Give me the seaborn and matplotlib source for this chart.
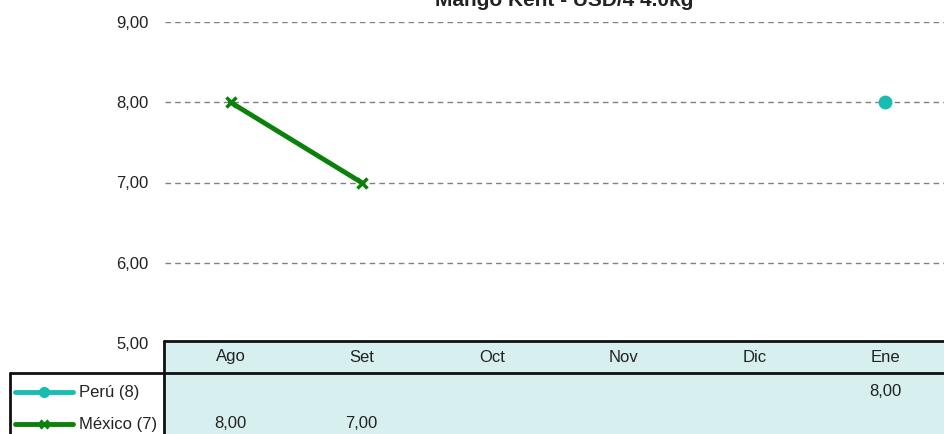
import numpy as np
import pandas as pd
import matplotlib
matplotlib.use("Agg")
import matplotlib.pyplot as plt
import matplotlib.transforms as mtrans
from matplotlib.lines import Line2D
from matplotlib.patches import Rectangle
import seaborn as sns

# data
months = ["Ago", "Set", "Oct", "Nov", "Dic", "Ene"]
peru = [np.nan, np.nan, np.nan, np.nan, np.nan, 8.00]
mexico = [8.00, 7.00, np.nan, np.nan, np.nan, np.nan]
series_names = ["Perú (8)", "México (7)"]
y_ticks = [5, 6, 7, 8, 9]
title = "Mango Kent - USD/4 4.0kg"

sns.set_theme(style="white")
plt.rcParams["font.family"] = ["Liberation Sans Narrow", "Liberation Sans", "DejaVu Sans"]
plt.rcParams["font.size"] = 12

W, H = 944, 434
fig = plt.figure(figsize=(W / 100, H / 100), dpi=100)

def fx(px):
    return px / W

def fy(py):
    return 1 - py / H

# plot area: columns 131 px wide, starting at x=165
ax = fig.add_axes([fx(165), fy(343), fx(786), (343 - 22) / H])
ax.set_facecolor("none")

peru_c = "#17bdb1"
mex_c = "#0a820a"

df = pd.DataFrame({"x": np.arange(len(months)), "peru": peru, "mexico": mexico})
sns.lineplot(data=df.dropna(subset=["peru"]), x="x", y="peru", ax=ax, color=peru_c,
             lw=3.5, marker="o", markersize=10, markeredgewidth=0, zorder=3, clip_on=False)
sns.lineplot(data=df.dropna(subset=["mexico"]), x="x", y="mexico", ax=ax, color=mex_c,
             lw=3.5, marker="x", markersize=7, markeredgewidth=2.5,
             markeredgecolor=mex_c, zorder=3, clip_on=False)

ax.set_xlim(-0.5, len(months) - 0.5)
ax.set_ylim(min(y_ticks), max(y_ticks))
ax.set_yticks(y_ticks)
ax.set_yticklabels([f"{v:.2f}".replace(".", ",") for v in y_ticks], color="#222222")
ax.set_xticks([])
ax.set_xlabel("")
ax.set_ylabel("")
ax.tick_params(axis="y", length=0, pad=12, labelsize=12)
for s in ax.spines.values():
    s.set_visible(False)
for v in y_ticks[1:]:
    ax.axhline(v, color="#808080", lw=1, ls=(0, (4, 3)), zorder=1)

# title, cut at the top of the picture
fig.text(fx(564), fy(6.5), title, ha="center", va="baseline",
         fontsize=15, fontweight="bold", color="#222222")

# data table below the plot
fig.patches.append(Rectangle((fx(165), 0), 1, fy(341), transform=fig.transFigure,
                             facecolor="#d7efef", edgecolor="none", zorder=0))
for y0 in (341, 373):
    fig.add_artist(Line2D([fx(164), 1], [fy(y0), fy(y0)], color="#111111", lw=2))
fig.add_artist(Line2D([fx(164), fx(164)], [fy(341), 0], color="#111111", lw=2))
fig.add_artist(Line2D([fx(10), fx(164)], [fy(373), fy(373)], color="#111111", lw=2))
fig.add_artist(Line2D([fx(10), fx(10)], [fy(373), 0], color="#111111", lw=2))

bt = mtrans.blended_transform_factory(ax.transData, fig.transFigure)
for i, m in enumerate(months):
    fig.text(i, fy(357), m, transform=bt, ha="center", va="center", color="#222222")

rows = [(peru, peru_c, "o", 392), (mexico, mex_c, "x", 424)]
for (vals, col, mk, yp), name in zip(rows, series_names):
    for i, v in enumerate(vals):
        if not np.isnan(v):
            fig.text(i, fy(yp), f"{v:.2f}".replace(".", ","), transform=bt,
                     ha="center", va="center", color="#222222")
    fig.add_artist(Line2D([fx(15), fx(44), fx(73)], [fy(yp)] * 3, color=col, lw=3.5,
                          marker=mk, markevery=[1],
                          markersize=8 if mk == "o" else 6,
                          markeredgewidth=0 if mk == "o" else 2.2))
    fig.text(fx(79), fy(yp), name, ha="left", va="center", color="#222222")

fig.savefig("out.png", dpi=100)
